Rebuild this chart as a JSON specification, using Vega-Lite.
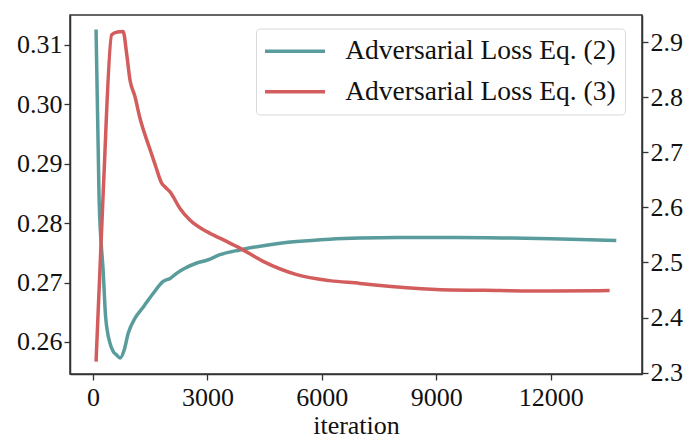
{
  "$schema": "https://vega.github.io/schema/vega-lite/v6.json",
  "width": 572,
  "height": 359,
  "autosize": {"type": "none"},
  "padding": {"left": 70, "top": 15, "right": 47, "bottom": 65},
  "background": "white",
  "config": {
    "font": "Liberation Serif",
    "view": {"stroke": "#333333", "strokeWidth": 1.5},
    "axis": {
      "grid": false,
      "domainColor": "#333333",
      "domainWidth": 1.5,
      "tickColor": "#333333",
      "tickWidth": 1.3,
      "tickSize": 6,
      "labelFont": "Liberation Serif",
      "labelFontSize": 26,
      "labelColor": "#111111",
      "titleFont": "Liberation Serif",
      "titleFontSize": 26,
      "titleFontWeight": "normal",
      "titleColor": "#111111"
    }
  },
  "datasets": {
    "eq2": [
      {"iteration": 80, "loss": 0.3126, "series": "Adversarial Loss Eq. (2)"},
      {"iteration": 160, "loss": 0.2840, "series": "Adversarial Loss Eq. (2)"},
      {"iteration": 270, "loss": 0.2716, "series": "Adversarial Loss Eq. (2)"},
      {"iteration": 330, "loss": 0.2643, "series": "Adversarial Loss Eq. (2)"},
      {"iteration": 445, "loss": 0.2598, "series": "Adversarial Loss Eq. (2)"},
      {"iteration": 530, "loss": 0.2584, "series": "Adversarial Loss Eq. (2)"},
      {"iteration": 620, "loss": 0.2578, "series": "Adversarial Loss Eq. (2)"},
      {"iteration": 710, "loss": 0.2573, "series": "Adversarial Loss Eq. (2)"},
      {"iteration": 820, "loss": 0.2587, "series": "Adversarial Loss Eq. (2)"},
      {"iteration": 925, "loss": 0.2615, "series": "Adversarial Loss Eq. (2)"},
      {"iteration": 1100, "loss": 0.2640, "series": "Adversarial Loss Eq. (2)"},
      {"iteration": 1320, "loss": 0.2659, "series": "Adversarial Loss Eq. (2)"},
      {"iteration": 1580, "loss": 0.2682, "series": "Adversarial Loss Eq. (2)"},
      {"iteration": 1840, "loss": 0.2702, "series": "Adversarial Loss Eq. (2)"},
      {"iteration": 2020, "loss": 0.2707, "series": "Adversarial Loss Eq. (2)"},
      {"iteration": 2200, "loss": 0.2716, "series": "Adversarial Loss Eq. (2)"},
      {"iteration": 2410, "loss": 0.2724, "series": "Adversarial Loss Eq. (2)"},
      {"iteration": 2720, "loss": 0.2733, "series": "Adversarial Loss Eq. (2)"},
      {"iteration": 3000, "loss": 0.2738, "series": "Adversarial Loss Eq. (2)"},
      {"iteration": 3330, "loss": 0.2747, "series": "Adversarial Loss Eq. (2)"},
      {"iteration": 3850, "loss": 0.2755, "series": "Adversarial Loss Eq. (2)"},
      {"iteration": 4550, "loss": 0.2763, "series": "Adversarial Loss Eq. (2)"},
      {"iteration": 5340, "loss": 0.2769, "series": "Adversarial Loss Eq. (2)"},
      {"iteration": 6210, "loss": 0.2773, "series": "Adversarial Loss Eq. (2)"},
      {"iteration": 7000, "loss": 0.2775, "series": "Adversarial Loss Eq. (2)"},
      {"iteration": 8000, "loss": 0.2776, "series": "Adversarial Loss Eq. (2)"},
      {"iteration": 9500, "loss": 0.2776, "series": "Adversarial Loss Eq. (2)"},
      {"iteration": 11000, "loss": 0.2775, "series": "Adversarial Loss Eq. (2)"},
      {"iteration": 12000, "loss": 0.2774, "series": "Adversarial Loss Eq. (2)"},
      {"iteration": 13000, "loss": 0.2772, "series": "Adversarial Loss Eq. (2)"},
      {"iteration": 13720, "loss": 0.2771, "series": "Adversarial Loss Eq. (2)"}
    ],
    "eq3": [
      {"iteration": 80, "loss": 2.320, "series": "Adversarial Loss Eq. (3)"},
      {"iteration": 270, "loss": 2.631, "series": "Adversarial Loss Eq. (3)"},
      {"iteration": 490, "loss": 2.913, "series": "Adversarial Loss Eq. (3)"},
      {"iteration": 640, "loss": 2.918, "series": "Adversarial Loss Eq. (3)"},
      {"iteration": 790, "loss": 2.919, "series": "Adversarial Loss Eq. (3)"},
      {"iteration": 880, "loss": 2.880, "series": "Adversarial Loss Eq. (3)"},
      {"iteration": 970, "loss": 2.831, "series": "Adversarial Loss Eq. (3)"},
      {"iteration": 1100, "loss": 2.801, "series": "Adversarial Loss Eq. (3)"},
      {"iteration": 1230, "loss": 2.762, "series": "Adversarial Loss Eq. (3)"},
      {"iteration": 1410, "loss": 2.722, "series": "Adversarial Loss Eq. (3)"},
      {"iteration": 1500, "loss": 2.704, "series": "Adversarial Loss Eq. (3)"},
      {"iteration": 1650, "loss": 2.673, "series": "Adversarial Loss Eq. (3)"},
      {"iteration": 1800, "loss": 2.644, "series": "Adversarial Loss Eq. (3)"},
      {"iteration": 1890, "loss": 2.637, "series": "Adversarial Loss Eq. (3)"},
      {"iteration": 2020, "loss": 2.628, "series": "Adversarial Loss Eq. (3)"},
      {"iteration": 2280, "loss": 2.598, "series": "Adversarial Loss Eq. (3)"},
      {"iteration": 2540, "loss": 2.577, "series": "Adversarial Loss Eq. (3)"},
      {"iteration": 2980, "loss": 2.556, "series": "Adversarial Loss Eq. (3)"},
      {"iteration": 3420, "loss": 2.541, "series": "Adversarial Loss Eq. (3)"},
      {"iteration": 3850, "loss": 2.526, "series": "Adversarial Loss Eq. (3)"},
      {"iteration": 4460, "loss": 2.502, "series": "Adversarial Loss Eq. (3)"},
      {"iteration": 5340, "loss": 2.478, "series": "Adversarial Loss Eq. (3)"},
      {"iteration": 6210, "loss": 2.467, "series": "Adversarial Loss Eq. (3)"},
      {"iteration": 7000, "loss": 2.462, "series": "Adversarial Loss Eq. (3)"},
      {"iteration": 7390, "loss": 2.459, "series": "Adversarial Loss Eq. (3)"},
      {"iteration": 9000, "loss": 2.451, "series": "Adversarial Loss Eq. (3)"},
      {"iteration": 10660, "loss": 2.449, "series": "Adversarial Loss Eq. (3)"},
      {"iteration": 12000, "loss": 2.448, "series": "Adversarial Loss Eq. (3)"},
      {"iteration": 13545, "loss": 2.449, "series": "Adversarial Loss Eq. (3)"}
    ]
  },
  "encoding": {
    "x": {
      "field": "iteration",
      "type": "quantitative",
      "scale": {"domain": [-603, 14394], "nice": false, "zero": false},
      "axis": {"values": [0, 3000, 6000, 9000, 12000], "format": "d", "title": "iteration", "labelPadding": 4, "titlePadding": 2}
    },
    "color": {
      "field": "series",
      "type": "nominal",
      "scale": {"domain": ["Adversarial Loss Eq. (2)", "Adversarial Loss Eq. (3)"], "range": ["#5a9c9c", "#d35d5d"]},
      "legend": {
        "orient": "none",
        "legendX": 186,
        "legendY": 13.5,
        "title": null,
        "symbolType": "M-3,0H3",
        "symbolSize": 400,
        "symbolStrokeWidth": 3.5,
        "symbolOffset": 16.25,
        "labelFont": "Liberation Serif",
        "labelFontSize": 27.5,
        "labelLimit": 500,
        "labelColor": "#111111",
        "labelOffset": 36.5,
        "padding": 9,
        "rowPadding": 11.5,
        "fillColor": "white",
        "strokeColor": "#d9d9d9",
        "cornerRadius": 4
      }
    }
  },
  "layer": [
    {
      "data": {"name": "eq2"},
      "mark": {"type": "line", "strokeWidth": 3.5, "interpolate": "monotone"},
      "encoding": {
        "y": {
          "field": "loss",
          "type": "quantitative",
          "scale": {"domain": [0.25461, 0.31505], "nice": false, "zero": false},
          "axis": {"values": [0.26, 0.27, 0.28, 0.29, 0.30, 0.31], "format": ".2f", "title": null, "labelPadding": 2, "orient": "left"}
        }
      }
    },
    {
      "data": {"name": "eq3"},
      "mark": {"type": "line", "strokeWidth": 3.5, "interpolate": "monotone"},
      "encoding": {
        "y": {
          "field": "loss",
          "type": "quantitative",
          "scale": {"domain": [2.2976, 2.949], "nice": false, "zero": false},
          "axis": {"values": [2.3, 2.4, 2.5, 2.6, 2.7, 2.8, 2.9], "format": ".1f", "title": null, "labelPadding": 2, "orient": "right"}
        }
      }
    }
  ],
  "resolve": {"scale": {"y": "independent"}}
}
